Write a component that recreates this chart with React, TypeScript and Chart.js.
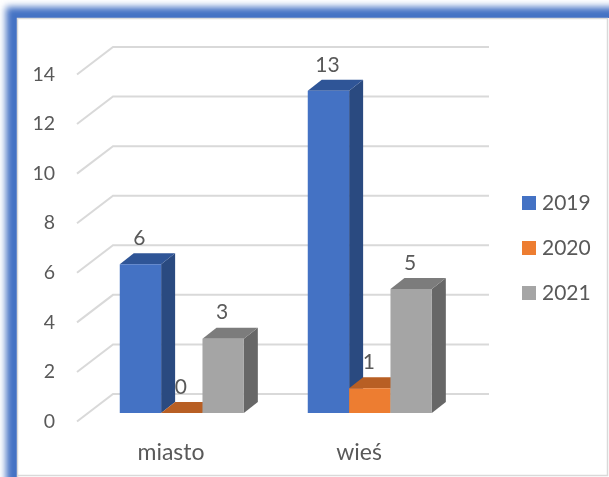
import React, { useEffect, useRef } from "react";
import { Chart, registerables } from "chart.js";

Chart.register(...registerables);

const categories = ["miasto", "wieś"];
const seriesNames = ["2019", "2020", "2021"];
const values2019 = [6, 13];
const values2020 = [0, 1];
const values2021 = [3, 5];
const frontColors = ["#4472C4", "#ED7D31", "#A5A5A5"];
const topColors = ["#2F5597", "#B85F24", "#7C7C7C"];
const sideColors = ["#2A4A80", "#AE5A22", "#676767"];

const TEXT = "#595959";
const FONT = "Lato, Carlito, 'Open Sans', sans-serif";
const WALL = { dx: 36, dy: 27.5 };
const BAR_SHIFT = { dx: 10.8, dy: 8.5 };
const BAR_DEPTH = { dx: 14, dy: 11 };
const LEGEND = { x: 522, y: 203, step: 45, box: 14, gap: 6, size: 21 };

const scene = {
  id: "scene",
  beforeDraw(chart: any) {
    const { ctx, width, height } = chart;
    ctx.save();
    ctx.fillStyle = "#fff";
    ctx.fillRect(0, 0, width, height);
    ctx.save();
    ctx.filter = "blur(3.5px)";
    ctx.fillStyle = "#4472C4";
    ctx.fillRect(6, 7, width + 40, height + 40);
    ctx.restore();
    ctx.fillStyle = "#fff";
    ctx.fillRect(608, 18, 10, height);
    ctx.fillRect(17, 18, width, height);
    ctx.strokeStyle = "#D9D9D9";
    ctx.lineWidth = 1.5;
    ctx.beginPath();
    ctx.moveTo(17.5, 477);
    ctx.lineTo(17.5, 18.5);
    ctx.lineTo(607.5, 18.5);
    ctx.lineTo(607.5, 475.5);
    ctx.lineTo(17.5, 475.5);
    ctx.stroke();
    ctx.restore();
  },
  beforeDatasetsDraw(chart: any) {
    const { ctx, chartArea, scales } = chart;
    ctx.save();
    ctx.strokeStyle = "#D9D9D9";
    ctx.lineWidth = 2;
    scales.y.ticks.forEach((t: any) => {
      const y = scales.y.getPixelForValue(t.value);
      ctx.beginPath();
      ctx.moveTo(chartArea.left, y);
      ctx.lineTo(chartArea.left + WALL.dx, y - WALL.dy);
      ctx.lineTo(chartArea.right + WALL.dx, y - WALL.dy);
      ctx.stroke();
    });
    ctx.restore();

    const metas = chart.data.datasets.map((_: any, i: number) => chart.getDatasetMeta(i));
    categories.forEach((_, c) => {
      metas.forEach((meta: any, s: number) => {
        const bar = meta.data[c];
        const l = bar.x - bar.width / 2 + BAR_SHIFT.dx;
        const r = bar.x + bar.width / 2 + BAR_SHIFT.dx;
        const t = bar.y - BAR_SHIFT.dy;
        const b = bar.base - BAR_SHIFT.dy;
        ctx.save();
        ctx.fillStyle = sideColors[s];
        ctx.beginPath();
        ctx.moveTo(r, t);
        ctx.lineTo(r + BAR_DEPTH.dx, t - BAR_DEPTH.dy);
        ctx.lineTo(r + BAR_DEPTH.dx, b - BAR_DEPTH.dy);
        ctx.lineTo(r, b);
        ctx.closePath();
        ctx.fill();
        ctx.fillStyle = topColors[s];
        ctx.beginPath();
        ctx.moveTo(l, t);
        ctx.lineTo(l + BAR_DEPTH.dx, t - BAR_DEPTH.dy);
        ctx.lineTo(r + BAR_DEPTH.dx, t - BAR_DEPTH.dy);
        ctx.lineTo(r, t);
        ctx.closePath();
        ctx.fill();
        ctx.translate(BAR_SHIFT.dx, -BAR_SHIFT.dy);
        bar.draw(ctx, chartArea);
        ctx.restore();
      });
    });

    ctx.save();
    ctx.fillStyle = TEXT;
    ctx.font = `21px ${FONT}`;
    ctx.textAlign = "center";
    ctx.textBaseline = "middle";
    metas.forEach((meta: any, s: number) => {
      meta.data.forEach((bar: any, c: number) => {
        const v = chart.data.datasets[s].data[c];
        ctx.fillText(String(v), bar.x + BAR_SHIFT.dx - 1, bar.y - BAR_SHIFT.dy - 26);
      });
    });
    ctx.font = `${LEGEND.size}px ${FONT}`;
    ctx.textAlign = "left";
    seriesNames.forEach((name, i) => {
      const y = LEGEND.y + i * LEGEND.step;
      ctx.fillStyle = frontColors[i];
      ctx.fillRect(LEGEND.x, y - LEGEND.box / 2, LEGEND.box, LEGEND.box);
      ctx.fillStyle = TEXT;
      ctx.fillText(name, LEGEND.x + LEGEND.box + LEGEND.gap, y);
    });
    ctx.restore();
    return false;
  },
};

export default function App() {
  const ref = useRef<HTMLCanvasElement>(null);
  useEffect(() => {
    const chart = new Chart(ref.current!, {
      type: "bar",
      data: {
        labels: categories,
        datasets: [values2019, values2020, values2021].map((data, i) => ({
          label: seriesNames[i],
          data,
          backgroundColor: frontColors[i],
          categoryPercentage: 0.66,
          barPercentage: 1,
        })),
      },
      options: {
        responsive: false,
        animation: false,
        layout: { padding: { top: 74.5, bottom: 0, left: 0, right: 0 } },
        plugins: {
          tooltip: { enabled: false },
          legend: { display: false },
        },
        scales: {
          x: {
            grid: { display: false, drawTicks: false },
            border: { display: false },
            ticks: { color: TEXT, font: { family: FONT, size: 23 }, padding: 17 },
            afterFit: (s: any) => { s.height = 55.5; },
          },
          y: {
            min: 0,
            max: 14,
            ticks: { stepSize: 2, color: TEXT, font: { family: FONT, size: 19.5 }, padding: 22 },
            grid: { display: false, drawTicks: false },
            border: { display: false },
            afterFit: (s: any) => { s.width = 77; },
          },
          spacer: {
            position: "right",
            grid: { display: false, drawTicks: false },
            border: { display: false },
            ticks: { display: false },
            afterFit: (s: any) => { s.width = 156; },
          },
        },
      },
      plugins: [scene],
    } as any);
    return () => chart.destroy();
  }, []);
  return (
    <div style={{ position: "fixed", left: 0, top: 0, width: 609, height: 477 }}>
      <canvas ref={ref} width={609} height={477} style={{ display: "block" }} />
    </div>
  );
}
